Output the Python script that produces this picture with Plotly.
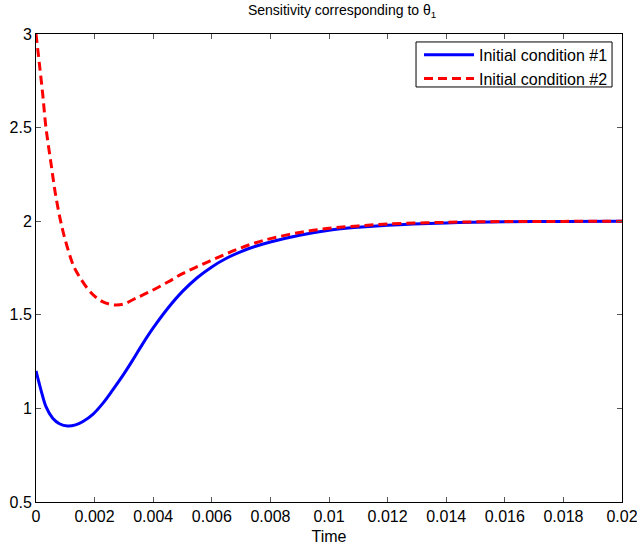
import plotly.graph_objects as go

# Initial condition #1 (blue solid)
t1 = [0.0, 0.00017, 0.00034, 0.00057, 0.00080, 0.00108, 0.00135, 0.00159, 0.00195, 0.00228,
      0.00262, 0.00296, 0.00330, 0.00364, 0.0040, 0.0045, 0.0050, 0.0055, 0.0060, 0.0065,
      0.0070, 0.0075, 0.0080, 0.0090, 0.0100, 0.0110, 0.0120, 0.0140, 0.0160, 0.0180, 0.0200]
v1 = [1.200, 1.098, 1.009, 0.947, 0.918, 0.906, 0.912, 0.929, 0.970, 1.027,
      1.099, 1.175, 1.258, 1.345, 1.430, 1.535, 1.625, 1.698, 1.756, 1.802,
      1.838, 1.866, 1.889, 1.925, 1.952, 1.968, 1.979, 1.991, 1.997, 1.999, 2.000]

# Initial condition #2 (red dashed)
t2 = [0.0, 0.000114, 0.000228, 0.00034, 0.000512, 0.00068, 0.00091, 0.00119, 0.00133, 0.00148,
      0.00176, 0.00200, 0.00225, 0.00250, 0.00275, 0.0030, 0.0034, 0.0039, 0.0045, 0.0050,
      0.0055, 0.0060, 0.0065, 0.0070, 0.0075, 0.0080, 0.0090, 0.0100, 0.0110, 0.0120,
      0.0140, 0.0160, 0.0180, 0.0200]
v2 = [3.000, 2.843, 2.680, 2.500, 2.309, 2.131, 1.953, 1.800, 1.745, 1.704,
      1.640, 1.600, 1.572, 1.557, 1.552, 1.558, 1.588, 1.625, 1.675, 1.720,
      1.757, 1.792, 1.826, 1.858, 1.885, 1.907, 1.940, 1.962, 1.975, 1.985,
      1.994, 1.998, 1.999, 2.000]

x_ticks = [0, 0.002, 0.004, 0.006, 0.008, 0.01, 0.012, 0.014, 0.016, 0.018, 0.02]
x_labels = ["0", "0.002", "0.004", "0.006", "0.008", "0.01", "0.012", "0.014", "0.016", "0.018", "0.02"]
y_ticks = [0.5, 1, 1.5, 2, 2.5, 3]
y_labels = ["0.5", "1", "1.5", "2", "2.5", "3"]

FONT = "Liberation Sans, Arial, Helvetica, sans-serif"

fig = go.Figure()
fig.add_trace(go.Scatter(x=t1, y=v1, mode="lines", name="Initial condition #1",
                         line=dict(color="#0000ff", width=3, shape="spline", smoothing=1.0)))
fig.add_trace(go.Scatter(x=t2, y=v2, mode="lines", name="Initial condition #2",
                         line=dict(color="#ff0000", width=3, dash="9px,5px", shape="spline", smoothing=1.0)))

axis_common = dict(showline=True, linecolor="black", linewidth=1, mirror="ticks",
                   ticks="inside", ticklen=5, tickcolor="#555", tickwidth=1,
                   showgrid=False, zeroline=False, automargin=False,
                   ticklabeloverflow="allow",
                   tickfont=dict(family=FONT, size=16, color="black"))

# legend frame (MATLAB-style box)
fig.add_shape(type="rect", xref="paper", yref="paper",
              x0=0.6485, x1=0.983, y0=0.8868, y1=0.983,
              line=dict(color="black", width=1), fillcolor="white", layer="below")

fig.update_layout(
    width=637, height=546,
    margin=dict(l=36, r=15, t=34, b=44),
    paper_bgcolor="white", plot_bgcolor="white",
    font=dict(family=FONT, size=16, color="black"),
    title=dict(text="Sensitivity corresponding to θ<sub>1</sub>", x=0.537, xanchor="center",
               y=0.99, yanchor="top", font=dict(family=FONT, size=14, color="black")),
    xaxis=dict(range=[0, 0.02], tickvals=x_ticks, ticktext=x_labels,
               title=dict(text="Time", font=dict(family=FONT, size=16), standoff=6),
               **axis_common),
    yaxis=dict(range=[0.5, 3], tickvals=y_ticks, ticktext=y_labels, **axis_common),
    legend=dict(x=0.6536, y=0.992, xanchor="left", yanchor="top",
                bgcolor="rgba(0,0,0,0)", borderwidth=0,
                font=dict(family=FONT, size=16, color="black"),
                itemwidth=50, tracegroupgap=0),
    showlegend=True,
)

fig.write_html("out.html")
